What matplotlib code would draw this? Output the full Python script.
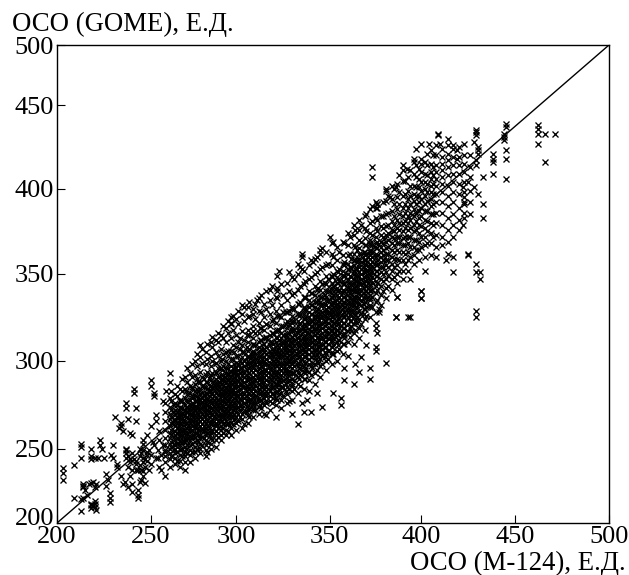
"""
Диаграмма рассеяния: ОСО (GOME) против ОСО (М-124)
"""
import numpy as np
import matplotlib
matplotlib.use('Agg')
import matplotlib.pyplot as plt
from matplotlib.transforms import ScaledTranslation

plt.rcParams['font.family'] = ['Liberation Serif', 'DejaVu Sans']

# tick values and where they sit on the original axes (fraction of axis length)
tick_values = [200, 250, 300, 350, 400, 450, 500]
x_tick_fracs = [0.0, 0.170, 0.325, 0.494, 0.660, 0.830, 1.0]
y_tick_fracs = [0.0, 0.155, 0.339, 0.521, 0.699, 0.874, 1.0]

# sparse points, read one by one
x_sparse = [203, 203, 203, 209, 209, 213, 213, 213, 213, 213, 214, 214, 214, 218, 218, 218, 218, 218, 218,
            220, 220, 220, 221, 223, 223, 224, 222, 225, 226, 226, 228, 228, 228, 230, 230, 232, 232, 234, 234,
            234, 235, 237, 237, 238, 239, 241, 241, 242, 242, 240, 243, 243, 243, 237, 237, 237, 239, 242, 242,
            239, 240, 246, 246, 246, 246, 248, 250, 250, 250, 250, 252, 252, 253, 253, 261, 261, 256, 258,
            236, 238, 240, 244, 245, 247, 249, 251, 233, 235, 231, 229, 227, 244, 246, 248, 254, 255, 257, 259,
            333, 336, 340, 346, 335, 338, 343, 352, 356, 356, 363, 358, 358, 372, 372, 381, 375, 375, 370,
            366, 364, 367, 375, 375, 376, 386, 393, 377, 377, 387, 400, 400, 323, 335, 335, 345, 335, 341, 350,
            322, 322, 311, 309, 297, 297,
            373, 373, 462, 462, 462, 462, 466, 466, 471, 445, 445, 444, 444, 444, 445, 445, 445, 438, 438, 438,
            438, 433, 429, 429, 429, 428, 430, 430, 430, 429, 429, 425, 422, 428, 430, 433, 433, 422, 423, 423,
            423, 417, 419, 419, 425, 425, 417, 413, 429, 429, 431, 431, 417, 429, 429, 400, 400, 386, 394, 394,
            387, 409, 409, 404, 400, 397, 410, 390, 392, 396, 400, 381, 386, 383, 376, 376,
            237, 238, 239, 240, 241, 238, 240, 242, 244, 245, 246, 247, 248, 249, 244, 246, 248, 250, 252, 253,
            254, 255, 256, 255, 257, 258, 243, 245, 247, 214, 215, 216, 217, 219, 220, 221, 218, 219, 220]
y_sparse = [237, 234, 229, 239, 217, 253, 251, 244, 216, 208, 226, 224, 217, 250, 245, 243, 227, 212, 210,
            244, 213, 211, 209, 255, 252, 250, 244, 244, 233, 225, 220, 217, 214, 252, 244, 240, 238, 265, 263,
            232, 226, 276, 273, 267, 259, 284, 282, 273, 266, 258, 222, 219, 217, 250, 247, 244, 243, 240, 236,
            232, 226, 255, 241, 235, 232, 246, 263, 289, 286, 240, 282, 280, 269, 266, 293, 288, 236, 232,
            228, 224, 221, 228, 236, 243, 249, 254, 262, 260, 268, 246, 229, 245, 249, 258, 244, 238, 277, 283,
            264, 271, 271, 274, 276, 278, 282, 282, 279, 275, 287, 296, 289, 290, 296, 299, 308, 306, 309,
            294, 298, 302, 319, 322, 316, 325, 325, 328, 330, 337, 340, 336, 352, 362, 353, 364, 360, 357, 372,
            342, 340, 335, 330, 325, 322,
            413, 407, 438, 436, 433, 427, 433, 416, 433, 439, 437, 431, 429, 433, 423, 418, 406, 418, 416, 421,
            409, 407, 435, 434, 432, 428, 425, 423, 421, 417, 414, 404, 401, 401, 397, 391, 383, 379, 386, 395,
            391, 426, 423, 418, 362, 361, 360, 358, 356, 351, 351, 347, 351, 329, 325, 340, 336, 325, 325, 347,
            337, 433, 432, 427, 427, 424, 427, 414, 412, 418, 415, 400, 401, 395, 389, 391,
            249, 245, 241, 247, 243, 238, 236, 242, 239, 247, 244, 238, 242, 236, 250, 253, 248, 246, 252, 244,
            249, 255, 246, 260, 252, 248, 236, 229, 227, 225, 222, 219, 226, 228, 224, 226, 213, 212, 215]

# dense band: each column of the cloud, x value and the y values in it
x_columns = [258, 261, 264, 267, 270, 273, 276, 279, 282, 285, 288, 291, 294, 297, 300, 303, 306, 309, 312, 315,
             318, 321, 324, 327, 330, 333, 336, 339, 342, 345, 348, 351, 354, 357, 360, 363, 366, 369, 372, 375,
             378, 381, 384, 387, 390, 393, 396, 399, 402, 405, 408, 411, 414, 417, 420, 423, 426]
y_columns = [
    [241, 245, 249, 252, 256, 261, 266, 271, 276],
    [238, 243, 247, 250, 253, 256, 259, 263, 267, 270, 274, 279],
    [240, 244, 247, 250, 252, 255, 258, 260, 263, 266, 269, 272, 276, 281],
    [238, 242, 246, 249, 252, 254, 257, 259, 262, 265, 268, 271, 274, 278, 284],
    [236, 241, 245, 248, 251, 254, 256, 259, 261, 264, 266, 269, 272, 275, 279, 284, 291],
    [241, 246, 249, 252, 255, 257, 260, 262, 265, 267, 270, 272, 275, 278, 282, 286, 293],
    [244, 248, 251, 254, 257, 259, 262, 264, 267, 269, 272, 274, 277, 280, 283, 287, 292, 300],
    [247, 250, 253, 256, 258, 261, 263, 266, 268, 271, 273, 276, 278, 281, 284, 288, 294, 302, 309],
    [245, 249, 252, 255, 258, 260, 262, 265, 267, 270, 272, 275, 277, 279, 282, 285, 288, 292, 298, 305],
    [250, 253, 256, 259, 261, 264, 266, 269, 271, 273, 276, 278, 281, 283, 286, 289, 292, 297, 303, 311],
    [251, 255, 258, 260, 263, 265, 268, 270, 272, 275, 277, 279, 282, 284, 287, 290, 294, 299, 305, 312],
    [255, 258, 261, 263, 266, 268, 270, 273, 275, 277, 280, 282, 284, 287, 289, 292, 296, 300, 307, 315],
    [258, 261, 264, 266, 268, 271, 273, 276, 278, 280, 283, 285, 288, 290, 293, 296, 300, 305, 311, 319],
    [258, 262, 265, 268, 270, 273, 275, 277, 280, 282, 284, 287, 289, 291, 294, 297, 301, 306, 313, 321],
    [261, 265, 268, 271, 273, 275, 278, 280, 282, 285, 287, 289, 292, 294, 296, 299, 303, 308, 315, 324],
    [262, 267, 270, 273, 275, 278, 280, 282, 285, 287, 289, 292, 294, 296, 299, 302, 305, 309, 317, 327, 332],
    [265, 269, 272, 275, 277, 279, 282, 284, 286, 289, 291, 293, 296, 298, 300, 303, 306, 311, 318, 325, 331],
    [268, 272, 275, 277, 280, 282, 284, 287, 289, 291, 294, 296, 298, 301, 303, 306, 309, 313, 320, 327],
    [270, 274, 277, 279, 282, 284, 287, 289, 291, 293, 296, 298, 300, 303, 305, 308, 311, 316, 322, 329, 336],
    [270, 275, 279, 281, 284, 286, 288, 291, 293, 295, 298, 300, 302, 305, 307, 310, 313, 318, 325, 333],
    [272, 277, 280, 283, 285, 288, 290, 292, 295, 297, 299, 302, 304, 306, 309, 311, 315, 320, 327, 335, 341],
    [268, 275, 279, 282, 285, 287, 290, 292, 294, 297, 299, 301, 304, 306, 308, 311, 314, 317, 322, 329, 337],
    [273, 278, 282, 285, 288, 290, 292, 295, 297, 299, 302, 304, 306, 309, 311, 313, 316, 320, 325, 332, 344],
    [276, 281, 285, 288, 291, 293, 295, 298, 300, 302, 305, 307, 309, 312, 314, 316, 319, 323, 328, 335, 345],
    [270, 278, 283, 287, 290, 293, 296, 298, 300, 303, 305, 307, 310, 312, 314, 317, 319, 322, 326, 331, 338, 348],
    [282, 287, 291, 294, 297, 299, 302, 304, 306, 309, 311, 313, 316, 318, 320, 323, 327, 333, 341, 350, 356],
    [284, 290, 294, 297, 300, 303, 305, 307, 310, 312, 314, 317, 319, 321, 324, 327, 331, 337, 344, 352],
    [283, 289, 294, 298, 301, 304, 307, 309, 311, 314, 316, 318, 321, 323, 325, 328, 331, 335, 340, 347, 355],
    [287, 293, 298, 302, 305, 307, 310, 312, 315, 317, 319, 322, 324, 326, 329, 331, 334, 338, 343, 350, 359],
    [291, 297, 301, 305, 308, 310, 313, 315, 318, 320, 322, 325, 327, 329, 332, 334, 337, 341, 346, 353, 362],
    [295, 300, 304, 308, 311, 314, 316, 318, 321, 323, 325, 328, 330, 332, 335, 337, 340, 344, 349, 355, 363],
    [298, 304, 308, 312, 315, 318, 320, 323, 325, 327, 330, 332, 334, 337, 339, 342, 345, 349, 355, 362, 368],
    [300, 306, 311, 315, 318, 321, 323, 326, 328, 331, 333, 335, 338, 340, 342, 345, 348, 352, 358, 366],
    [304, 310, 315, 319, 322, 325, 327, 330, 332, 334, 337, 339, 341, 344, 346, 349, 352, 356, 361, 369],
    [303, 311, 317, 321, 325, 328, 330, 333, 335, 338, 340, 342, 345, 347, 350, 353, 356, 361, 367, 374],
    [310, 316, 321, 325, 329, 332, 335, 337, 340, 342, 345, 347, 350, 352, 355, 358, 362, 367, 373, 379],
    [313, 319, 324, 329, 333, 336, 339, 341, 344, 346, 349, 351, 354, 356, 359, 362, 365, 370, 376, 382],
    [318, 324, 330, 334, 338, 340, 343, 346, 348, 351, 353, 356, 358, 361, 363, 367, 371, 377, 384],
    [325, 331, 336, 340, 343, 346, 349, 351, 354, 356, 359, 361, 364, 367, 370, 374, 380, 388],
    [328, 334, 339, 343, 346, 349, 352, 355, 357, 360, 362, 365, 368, 372, 377, 383, 389, 392],
    [332, 338, 343, 347, 351, 354, 357, 360, 363, 366, 369, 373, 378, 384],
    [336, 342, 347, 351, 355, 358, 362, 365, 369, 373, 378, 385, 393, 399],
    [341, 347, 352, 356, 360, 364, 368, 372, 376, 381, 387, 394, 402],
    [345, 350, 355, 359, 364, 368, 372, 377, 382, 388, 395, 403],
    [347, 352, 358, 363, 367, 371, 375, 380, 384, 389, 396, 405, 411],
    [352, 358, 363, 368, 372, 376, 380, 384, 389, 394, 399, 407],
    [356, 361, 366, 370, 375, 379, 384, 388, 393, 397, 402, 409, 416],
    [358, 364, 369, 374, 379, 383, 387, 392, 396, 401, 406, 412],
    [352, 360, 367, 372, 377, 382, 387, 391, 396, 400, 404, 409, 416],
    [361, 368, 374, 380, 385, 390, 394, 398, 402, 406, 410, 415, 423],
    [360, 366, 373, 380, 386, 392, 397, 402, 406, 410, 414, 420, 426],
    [367, 372, 379, 386, 392, 398, 403, 407, 411, 415, 419, 424],
    [362, 369, 376, 383, 390, 396, 402, 408, 413, 417, 421, 426, 430],
    [372, 379, 385, 392, 398, 404, 409, 414, 419, 424],
    [376, 382, 389, 397, 403, 409, 414, 419, 425],
    [383, 392, 398, 404, 410, 415, 420, 427],
    [385, 392, 399, 407, 413, 420],
]

# second pass over the band, between the columns above, with the upper edge of the cloud
x_columns_2 = [262, 265, 268, 271, 274, 277, 280, 283, 286, 289, 292, 295, 298, 301, 304, 307, 310, 313, 316, 319,
               322, 325, 328, 331, 334, 337, 340, 343, 346, 349, 352, 355, 358, 361, 364, 367, 370, 373, 376, 379,
               382, 385, 388, 391, 394, 397, 400, 403, 406]
y_columns_2 = [
    [245, 251, 254, 258, 261, 265, 268, 272, 277, 283],
    [242, 248, 253, 256, 259, 262, 265, 268, 271, 275, 280, 286],
    [245, 250, 254, 258, 261, 264, 267, 270, 273, 277, 283, 290],
    [247, 252, 256, 259, 262, 265, 268, 271, 274, 277, 281, 288, 296],
    [248, 253, 258, 261, 264, 267, 270, 273, 276, 280, 285, 291, 298],
    [250, 255, 259, 262, 265, 268, 271, 274, 277, 280, 284, 290, 297, 304],
    [252, 257, 261, 264, 267, 270, 273, 276, 279, 282, 286, 291, 299, 307],
    [248, 254, 259, 263, 266, 269, 272, 275, 278, 281, 284, 288, 294, 301, 310],
    [255, 260, 264, 267, 270, 273, 276, 279, 282, 285, 288, 293, 300, 308, 314],
    [257, 262, 266, 269, 272, 275, 278, 281, 284, 287, 291, 296, 303, 311, 316],
    [259, 264, 268, 271, 274, 277, 280, 283, 286, 289, 292, 297, 304, 313, 320],
    [260, 265, 269, 272, 275, 278, 281, 284, 287, 290, 293, 298, 306, 316, 323],
    [264, 268, 272, 275, 278, 281, 284, 287, 290, 293, 296, 301, 309, 318, 326],
    [266, 270, 274, 277, 280, 283, 286, 289, 292, 295, 298, 303, 311, 321, 329],
    [264, 271, 276, 279, 282, 285, 288, 291, 294, 297, 300, 305, 312, 323, 331],
    [268, 273, 277, 281, 284, 287, 290, 293, 296, 299, 302, 307, 315, 326, 334],
    [272, 276, 280, 283, 286, 289, 292, 295, 298, 301, 304, 309, 316, 324, 333],
    [273, 278, 282, 285, 288, 291, 294, 297, 300, 303, 307, 312, 319, 328, 338],
    [269, 276, 281, 285, 289, 292, 295, 298, 301, 304, 308, 313, 321, 330, 340],
    [276, 281, 285, 289, 292, 295, 298, 301, 304, 307, 311, 316, 323, 332, 343],
    [278, 283, 287, 291, 294, 297, 300, 303, 306, 309, 313, 318, 326, 336, 349],
    [280, 285, 289, 293, 296, 299, 302, 305, 308, 311, 315, 320, 328, 338],
    [277, 284, 289, 293, 297, 300, 303, 306, 309, 312, 316, 321, 329, 340, 351],
    [284, 289, 293, 297, 300, 303, 306, 309, 312, 315, 318, 323, 330, 339, 347],
    [286, 292, 296, 300, 303, 306, 309, 312, 315, 318, 322, 327, 334, 343, 354],
    [290, 295, 299, 303, 306, 309, 312, 315, 318, 321, 325, 330, 337, 346],
    [292, 297, 302, 305, 308, 311, 314, 317, 320, 323, 327, 332, 339, 348, 358],
    [295, 300, 304, 307, 310, 313, 316, 319, 322, 325, 329, 334, 341, 351, 360],
    [298, 303, 307, 310, 313, 316, 319, 322, 325, 328, 332, 337, 344, 354, 365],
    [301, 306, 310, 313, 316, 319, 322, 325, 328, 331, 335, 340, 347, 356],
    [304, 309, 313, 316, 319, 322, 325, 328, 331, 334, 338, 343, 350, 360, 369],
    [307, 312, 316, 319, 322, 325, 328, 331, 334, 337, 341, 346, 353, 363],
    [310, 315, 319, 322, 325, 328, 331, 334, 337, 340, 344, 349, 357, 368],
    [314, 319, 323, 327, 330, 333, 336, 339, 342, 345, 349, 354, 362, 372],
    [318, 323, 327, 331, 334, 337, 340, 343, 346, 349, 353, 358, 366, 376],
    [321, 327, 332, 335, 338, 341, 344, 347, 350, 353, 357, 362, 369, 379],
    [326, 331, 336, 340, 343, 346, 349, 352, 355, 358, 362, 367, 375, 385],
    [331, 337, 341, 345, 348, 351, 354, 357, 360, 363, 367, 373, 381, 390],
    [335, 341, 345, 349, 352, 355, 358, 361, 365, 369, 375, 382, 391],
    [340, 346, 350, 354, 358, 361, 364, 368, 372, 377, 384, 392],
    [343, 349, 354, 358, 362, 366, 370, 374, 379, 386, 396],
    [348, 354, 359, 363, 367, 371, 375, 379, 384, 391, 400],
    [352, 358, 363, 368, 372, 376, 380, 385, 391, 398, 408],
    [356, 362, 367, 372, 377, 381, 386, 391, 397, 405],
    [360, 366, 372, 377, 382, 386, 391, 396, 402, 411],
    [364, 370, 376, 381, 386, 391, 396, 401, 407, 414],
    [366, 372, 378, 384, 389, 394, 399, 404, 410, 418],
    [368, 375, 381, 387, 393, 398, 403, 408, 414, 421],
    [372, 379, 385, 391, 397, 403, 408, 413, 420],
]

# third pass, the solid core of the cloud only
x_columns_3 = [263.5, 267, 270.5, 274, 277.5, 281, 284.5, 288, 291.5, 295, 298.5, 302, 305.5, 309, 312.5, 316,
               319.5, 323, 326.5, 330, 333.5, 337, 340.5, 344, 347.5, 351, 354.5, 358, 361.5, 365, 368.5, 372]
y_columns_3 = [
    [249, 253, 257, 260, 264, 267, 271, 275],
    [250, 255, 258, 261, 264, 267, 270, 273, 277],
    [250, 255, 258, 262, 265, 268, 271, 274, 278, 283],
    [253, 257, 260, 263, 266, 269, 272, 275, 279, 284],
    [254, 258, 261, 264, 267, 270, 273, 276, 279, 283, 288],
    [256, 260, 263, 266, 269, 272, 275, 278, 281, 285, 290],
    [258, 262, 265, 268, 271, 274, 277, 280, 283, 286, 291],
    [260, 264, 267, 270, 273, 276, 279, 282, 285, 288, 293, 299],
    [262, 266, 269, 272, 275, 278, 281, 284, 287, 290, 295, 301],
    [264, 268, 271, 274, 277, 280, 283, 286, 289, 292, 296, 303],
    [267, 270, 273, 276, 279, 282, 285, 288, 291, 294, 298, 305],
    [268, 272, 275, 278, 281, 284, 287, 290, 293, 296, 300, 307, 313],
    [271, 274, 277, 280, 283, 286, 289, 292, 295, 298, 302, 308, 315],
    [273, 276, 279, 282, 285, 288, 291, 294, 297, 300, 304, 310, 317],
    [275, 278, 281, 284, 287, 290, 293, 296, 299, 302, 306, 312, 319],
    [277, 280, 283, 286, 289, 292, 295, 298, 301, 304, 308, 314, 321],
    [279, 282, 285, 288, 291, 294, 297, 300, 303, 306, 310, 316, 324],
    [281, 284, 287, 290, 293, 296, 299, 302, 305, 308, 312, 318, 326],
    [283, 287, 290, 293, 296, 299, 302, 305, 308, 311, 315, 321, 328],
    [286, 290, 293, 296, 299, 302, 305, 308, 311, 314, 318, 323, 330],
    [290, 293, 296, 299, 302, 305, 308, 311, 314, 317, 321, 326, 333],
    [293, 296, 299, 302, 305, 308, 311, 314, 317, 320, 324, 329, 336],
    [296, 299, 302, 305, 308, 311, 314, 317, 320, 323, 327, 332, 339],
    [299, 302, 305, 308, 311, 314, 317, 320, 323, 326, 330, 335, 342],
    [302, 305, 308, 311, 314, 317, 320, 323, 326, 329, 333, 338, 345],
    [305, 308, 311, 314, 317, 320, 323, 326, 329, 332, 336, 341, 348],
    [309, 312, 315, 318, 321, 324, 327, 330, 333, 336, 340, 345, 351],
    [313, 316, 319, 322, 325, 328, 331, 334, 337, 340, 344, 349, 355],
    [317, 320, 323, 326, 329, 332, 335, 338, 341, 344, 348, 353, 359],
    [322, 325, 328, 331, 334, 337, 340, 343, 346, 349, 353, 358, 364],
    [327, 330, 333, 336, 339, 342, 345, 348, 351, 354, 358, 363],
    [332, 335, 338, 341, 344, 347, 350, 353, 356, 359, 363, 368],
]

x_gome = np.concatenate([x_sparse,
                         np.repeat(x_columns, [len(c) for c in y_columns]),
                         np.repeat(x_columns_2, [len(c) for c in y_columns_2]),
                         np.repeat(x_columns_3, [len(c) for c in y_columns_3])])
y_gome = np.concatenate([y_sparse, np.concatenate(y_columns), np.concatenate(y_columns_2),
                         np.concatenate(y_columns_3)])


def make_scale(fracs):
    forward = lambda v: np.interp(v, tick_values, fracs)
    inverse = lambda f: np.interp(f, fracs, tick_values)
    return forward, inverse


fig = plt.figure(figsize=(6.29, 5.75), dpi=100)
ax = fig.add_axes([57 / 629, 1 - 523 / 575, 552 / 629, 478 / 575])
ax.set_xscale('function', functions=make_scale(x_tick_fracs))
ax.set_yscale('function', functions=make_scale(y_tick_fracs))
ax.set_xlim(200, 500)
ax.set_ylim(200, 500)

ax.plot(x_gome, y_gome, 'x', color='black', markersize=4.8, markeredgewidth=0.95, clip_on=False)
ax.plot([0, 1], [0, 1], color='black', linewidth=1.0, transform=ax.transAxes)

ax.set_xticks(tick_values)
ax.set_yticks(tick_values)
ax.minorticks_off()
ax.tick_params(axis='both', direction='in', length=6, width=0.8, labelsize=19, pad=2)
for side in ax.spines.values():
    side.set_linewidth(1.0)

# нижняя подпись оси Y приподнята, чтобы не наезжать на ось X
bottom_label = ax.get_yticklabels()[0]
bottom_label.set_transform(bottom_label.get_transform() + ScaledTranslation(0, 5 / 72, fig.dpi_scale_trans))

fig.text(12 / 629, 1 - 31 / 575, 'ОСО (GOME), Е.Д.', fontsize=19.3, ha='left', va='baseline')
fig.text(626 / 629, 1 - 569.5 / 575, 'ОСО (М-124), Е.Д.', fontsize=19.3, ha='right', va='baseline')

fig.savefig('out.png', dpi=100)
